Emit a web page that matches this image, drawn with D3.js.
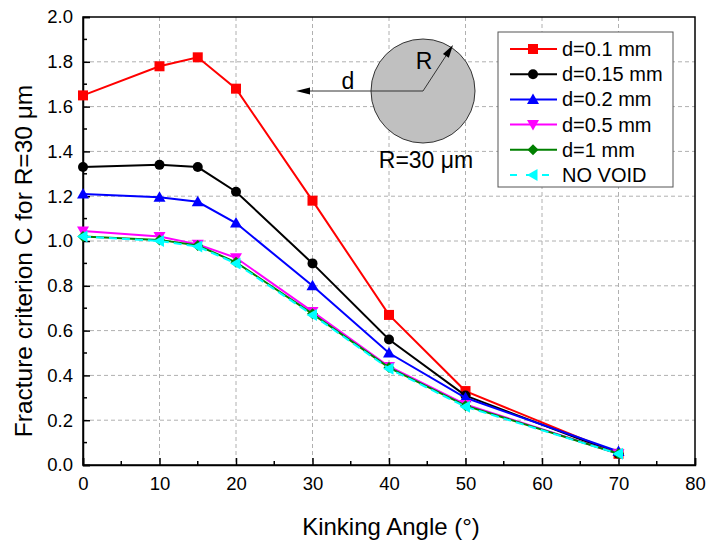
<!DOCTYPE html>
<html><head><meta charset="utf-8">
<script src="https://cdn.jsdelivr.net/npm/d3@7"></script>
<style>body{margin:0;background:#fff}svg{display:block}text{font-family:"Liberation Sans",Arial,sans-serif}</style>
</head><body>
<svg id="c" width="709" height="541"></svg>
<script>
const angles = [0, 10, 15, 20, 30, 40, 50, 70];
const d01  = [1.65, 1.78, 1.82, 1.68, 1.18, 0.67, 0.33, 0.05];
const d015 = [1.33, 1.34, 1.33, 1.22, 0.90, 0.56, 0.31, 0.05];
const d02  = [1.21, 1.195, 1.175, 1.08, 0.80, 0.50, 0.30, 0.06];
const d05  = [1.045, 1.02, 0.985, 0.925, 0.685, 0.44, 0.27, 0.05];
const d1   = [1.02, 1.005, 0.98, 0.905, 0.675, 0.435, 0.265, 0.05];
const noVoid = [1.02, 1.00, 0.975, 0.90, 0.67, 0.43, 0.26, 0.05];
const seriesNames = ["d=0.1 mm","d=0.15 mm","d=0.2 mm","d=0.5 mm","d=1 mm","NO VOID"];
const xTicks = [0,10,20,30,40,50,60,70,80];
const yTicks = [0,0.2,0.4,0.6,0.8,1.0,1.2,1.4,1.6,1.8,2.0];

const series = [
  {name:seriesNames[0], v:d01, color:"#ff0000", sym:"square", dash:null},
  {name:seriesNames[1], v:d015, color:"#000000", sym:"circle", dash:null},
  {name:seriesNames[2], v:d02, color:"#0000ff", sym:"triUp", dash:null},
  {name:seriesNames[3], v:d05, color:"#ff00ff", sym:"triDown", dash:null},
  {name:seriesNames[4], v:d1, color:"#008000", sym:"diamond", dash:null},
  {name:seriesNames[5], v:noVoid, color:"#00ffff", sym:"triLeft", dash:"8,5"}
];

const svg = d3.select("#c");
const L=83, R=695, T=17, B=465;
const x = d3.scaleLinear().domain([0,80]).range([L,R]);
const y = d3.scaleLinear().domain([0,2]).range([B,T]);

// grid
const g = svg.append("g");
g.selectAll(".gx").data(xTicks.slice(1,-1)).enter().append("line")
  .attr("x1",d=>x(d)).attr("x2",d=>x(d)).attr("y1",T).attr("y2",B)
  .attr("stroke","#b0b0b0").attr("stroke-dasharray","4,3").attr("stroke-width",1);
g.selectAll(".gy").data(yTicks.slice(1,-1)).enter().append("line")
  .attr("y1",d=>y(d)).attr("y2",d=>y(d)).attr("x1",L).attr("x2",R)
  .attr("stroke","#b0b0b0").attr("stroke-dasharray","4,3").attr("stroke-width",1);

// frame
svg.append("rect").attr("x",L).attr("y",T).attr("width",R-L).attr("height",B-T)
  .attr("fill","none").attr("stroke","#000").attr("stroke-width",1.5);

// axes with inward ticks
const xAxis = d3.axisBottom(x).tickValues(xTicks).tickSize(-7).tickPadding(12).tickFormat(d3.format("d"));
const xa = svg.append("g").attr("transform",`translate(0,${B})`).call(xAxis);
const yAxis = d3.axisLeft(y).tickValues(yTicks).tickSize(-7).tickPadding(10).tickFormat(d3.format(".1f"));
const ya = svg.append("g").attr("transform",`translate(${L},0)`).call(yAxis);
[xa,ya].forEach(a=>{a.select(".domain").attr("stroke-width",1.5);a.selectAll(".tick line").attr("stroke-width",1.5);a.selectAll("text").attr("font-size",18.5).attr("fill","#000").attr("font-family","Liberation Sans, Arial, sans-serif");});
// minor ticks
const xMinor = d3.range(5,80,10);
svg.selectAll(".mx").data(xMinor).enter().append("line")
  .attr("x1",d=>x(d)).attr("x2",d=>x(d)).attr("y1",B).attr("y2",B-4).attr("stroke","#000").attr("stroke-width",1.5);
const yMinor = d3.range(0.1,2,0.2);
svg.selectAll(".my").data(yMinor).enter().append("line")
  .attr("y1",d=>y(d)).attr("y2",d=>y(d)).attr("x1",L).attr("x2",L+4).attr("stroke","#000").attr("stroke-width",1.5);

// titles
svg.append("text").attr("x",391).attr("y",535).attr("text-anchor","middle").attr("font-size",24).text("Kinking Angle (°)");
svg.append("text").attr("transform",`translate(32,261) rotate(-90)`).attr("text-anchor","middle").attr("font-size",24.5).text("Fracture criterion C for R=30 μm");

// symbols
function marker(sel, sym, cx, cy, color, s){
  s = s||5;
  let p;
  switch(sym){
    case "square": return sel.append("rect").attr("x",cx-s).attr("y",cy-s).attr("width",2*s).attr("height",2*s).attr("fill",color);
    case "circle": return sel.append("circle").attr("cx",cx).attr("cy",cy).attr("r",s).attr("fill",color);
    case "triUp": p=[[cx,cy-s*1.2],[cx-s*1.2,cy+s*0.9],[cx+s*1.2,cy+s*0.9]]; break;
    case "triDown": p=[[cx,cy+s*1.2],[cx-s*1.2,cy-s*0.9],[cx+s*1.2,cy-s*0.9]]; break;
    case "triLeft": p=[[cx-s*1.2,cy],[cx+s*0.9,cy-s*1.2],[cx+s*0.9,cy+s*1.2]]; break;
    case "diamond": p=[[cx,cy-s*1.1],[cx+s*1.1,cy],[cx,cy+s*1.1],[cx-s*1.1,cy]]; break;
  }
  return sel.append("polygon").attr("points",p.map(q=>q.join(",")).join(" ")).attr("fill",color);
}

const line = d3.line().x((d,i)=>x(angles[i])).y(d=>y(d));
const plot = svg.append("g");
series.forEach(s=>{
  plot.append("path").datum(s.v).attr("d",line).attr("fill","none").attr("stroke",s.color)
    .attr("stroke-width",2).attr("stroke-dasharray",s.dash);
  s.v.forEach((v,i)=>marker(plot,s.sym,x(angles[i]),y(v),s.color,5));
});

// inset
const inset = svg.append("g");
const cx=423, cy=91, r=52;
inset.append("circle").attr("cx",cx).attr("cy",cy).attr("r",r).attr("fill","#c0c0c0").attr("stroke","#333").attr("stroke-width",1);
inset.append("line").attr("x1",cx).attr("y1",cy).attr("x2",306).attr("y2",cy).attr("stroke","#333").attr("stroke-width",1);
inset.append("polygon").attr("points",`296,${cy} 310,${cy-3.5} 310,${cy+3.5}`).attr("fill","#000");
const ang = Math.atan2(45-cy, 453-cx);
const tipX=453, tipY=45;
inset.append("line").attr("x1",cx).attr("y1",cy).attr("x2",tipX-10*Math.cos(ang)).attr("y2",tipY-10*Math.sin(ang)).attr("stroke","#333").attr("stroke-width",1);
{
  const bx=tipX-13*Math.cos(ang), by=tipY-13*Math.sin(ang);
  const px=-Math.sin(ang)*3.5, py=Math.cos(ang)*3.5;
  inset.append("polygon").attr("points",`${tipX},${tipY} ${bx+px},${by+py} ${bx-px},${by-py}`).attr("fill","#000");
}
inset.append("text").attr("x",348).attr("y",89).attr("text-anchor","middle").attr("font-size",23).text("d");
inset.append("text").attr("x",424).attr("y",69).attr("text-anchor","middle").attr("font-size",23).text("R");
inset.append("text").attr("x",426).attr("y",168).attr("text-anchor","middle").attr("font-size",23).text("R=30 μm");

// legend
const lg = svg.append("g");
lg.append("rect").attr("x",498).attr("y",32).attr("width",175).attr("height",155).attr("fill","#fff").attr("stroke","#555").attr("stroke-width",1);
series.forEach((s,i)=>{
  const yy = 49 + i*25.2;
  lg.append("line").attr("x1",510).attr("x2",557).attr("y1",yy).attr("y2",yy).attr("stroke",s.color).attr("stroke-width",2).attr("stroke-dasharray",s.dash?"7,9":null);
  marker(lg,s.sym,533,yy,s.color,5);
  lg.append("text").attr("x",562).attr("y",yy+7).attr("font-size",20).text(s.name);
});
</script>
</body></html>
